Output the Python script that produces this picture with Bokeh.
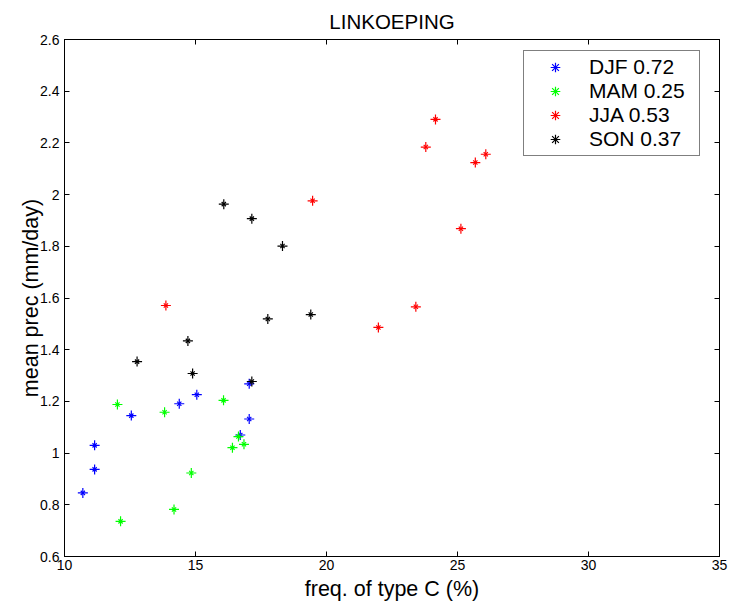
from bokeh.plotting import figure
from bokeh.models import Range1d, FixedTicker, LinearAxis, Legend, LegendItem
from bokeh.embed import file_html
from bokeh.resources import INLINE

# ---- data ----
djf_x = [10.70, 11.15, 11.15, 12.55, 14.38, 15.05, 16.71, 17.05, 17.05]
djf_y = [0.846, 0.937, 1.030, 1.145, 1.191, 1.226, 1.070, 1.132, 1.268]

mam_x = [12.02, 13.82, 16.07, 16.64, 16.41, 16.85, 14.84, 14.18, 12.14]
mam_y = [1.188, 1.158, 1.204, 1.064, 1.021, 1.034, 0.923, 0.782, 0.736]

jja_x = [19.47, 13.87, 24.16, 23.79, 25.68, 26.08, 25.13, 23.41, 21.98]
jja_y = [1.976, 1.571, 2.291, 2.184, 2.124, 2.156, 1.868, 1.566, 1.486]

son_x = [16.08, 17.15, 18.32, 17.76, 19.40, 14.71, 12.77, 14.89, 17.15]
son_y = [1.963, 1.907, 1.801, 1.519, 1.536, 1.434, 1.354, 1.308, 1.277]

series_names = ["DJF 0.72", "MAM 0.25", "JJA 0.53", "SON 0.37"]
series_colors = ["#0000ff", "#00ff00", "#ff0000", "#000000"]

x_ticks = [10, 15, 20, 25, 30, 35]
y_ticks = [0.6, 0.8, 1.0, 1.2, 1.4, 1.6, 1.8, 2.0, 2.2, 2.4, 2.6]
y_tick_labels = ["0.6", "0.8", "1", "1.2", "1.4", "1.6", "1.8", "2", "2.2", "2.4", "2.6"]

FONT = "Liberation Sans"

p = figure(width=733, height=605, output_backend="svg", toolbar_location=None,
           x_range=Range1d(10, 35), y_range=Range1d(0.6, 2.6),
           min_border_left=64, min_border_right=14, min_border_top=39, min_border_bottom=49,
           x_axis_label="freq. of type C (%)", y_axis_label="mean prec (mm/day)")
p.background_fill_color = "white"
p.border_fill_color = "white"
p.outline_line_color = "black"
p.outline_line_width = 1
p.grid.visible = False

p.title.text = "LINKOEPING"
p.title.align = "center"
p.title.text_font = FONT
p.title.text_font_style = "normal"
p.title.text_font_size = "20.5px"
p.title.text_color = "black"
p.title.standoff = 13

for ax in (p.xaxis[0], p.yaxis[0]):
    ax.axis_line_color = "black"
    ax.major_tick_in = 5
    ax.major_tick_out = 0
    ax.minor_tick_line_color = None
    ax.major_label_text_font = FONT
    ax.major_label_text_font_size = "14px"
    ax.major_label_text_color = "black"
    ax.axis_label_text_font = FONT
    ax.axis_label_text_font_size = "21.5px"
    ax.axis_label_text_font_style = "normal"
    ax.axis_label_text_color = "black"

p.xaxis[0].ticker = FixedTicker(ticks=x_ticks)
p.yaxis[0].ticker = FixedTicker(ticks=y_ticks)
p.yaxis[0].major_label_overrides = {t: s for t, s in zip(y_ticks, y_tick_labels)}
p.xaxis[0].major_label_standoff = 3
p.xaxis[0].axis_label_standoff = 4
p.yaxis[0].major_label_standoff = 5
p.yaxis[0].axis_label_standoff = -6

# mirror ticks on top and right (no labels)
top = LinearAxis(ticker=FixedTicker(ticks=x_ticks))
right = LinearAxis(ticker=FixedTicker(ticks=y_ticks))
for ax in (top, right):
    ax.axis_line_color = "black"
    ax.major_tick_in = 5
    ax.major_tick_out = 0
    ax.minor_tick_line_color = None
    ax.major_label_text_color = None
    ax.major_label_standoff = 0
p.add_layout(top, "above")
p.add_layout(right, "right")

renderers = []
for xs, ys, c in zip([djf_x, mam_x, jja_x, son_x], [djf_y, mam_y, jja_y, son_y], series_colors):
    r1 = p.scatter(xs, ys, marker="cross", size=10, line_color=c, line_width=1.2)
    r2 = p.scatter(xs, ys, marker="x", size=6, line_color=c, line_width=1.2)
    renderers.append([r1, r2])

legend = Legend(items=[LegendItem(label=n, renderers=r) for n, r in zip(series_names, renderers)],
                location=(459, 400))
legend.label_text_font = FONT
legend.label_text_font_size = "21px"
legend.label_text_color = "black"
legend.padding = 4
legend.spacing = 0
legend.label_height = 24
legend.glyph_height = 24
legend.glyph_width = 54
legend.label_standoff = 7
legend.label_width = 106
legend.border_line_color = "black"
legend.border_line_width = 1
legend.background_fill_color = "white"
legend.background_fill_alpha = 1
legend.margin = 0
p.add_layout(legend, "center")

open("out.html", "w").write(file_html(p, INLINE))
